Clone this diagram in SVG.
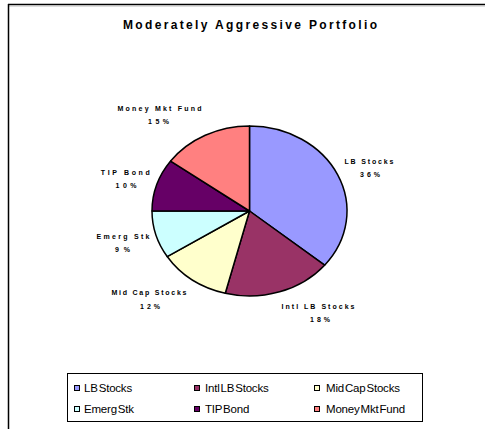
<svg xmlns="http://www.w3.org/2000/svg" width="485" height="429" viewBox="0 0 485 429">
<style>
.frame{stroke:#000;stroke-width:1.5;fill:none}
.slice{stroke:#000;stroke-width:1.5;stroke-linejoin:round}
.lbl{font-family:"Liberation Sans",Arial,sans-serif;font-weight:bold;font-size:7px;fill:#000;text-anchor:middle}
.title{font-family:"Liberation Sans",Arial,sans-serif;font-weight:bold;font-size:12px;fill:#000;text-anchor:middle}
.leg{font-family:"Liberation Sans",Arial,sans-serif;font-size:11.5px;fill:#000;word-spacing:-2px;letter-spacing:-0.2px}
.sw{stroke:#000;stroke-width:1}
</style>
<rect width="485" height="429" fill="#fff"/>
<g id="frame">
<line x1="8" y1="4.5" x2="485" y2="4.5" class="frame"/>
<line x1="8" y1="6" x2="485" y2="6" stroke="#bbb" stroke-width="1"/>
<line x1="8.5" y1="4" x2="8.5" y2="429" class="frame"/>
</g>
<text id="title" class="title" x="250" y="28.5" textLength="254" lengthAdjust="spacing">Moderately Aggressive Portfolio</text>
<g id="slice-lb"><path class="slice" fill="#9999FF" d="M249.5,211 L249.5,126 A97.5,85 0 0 1 324.62,265.18 Z"/></g>
<g id="slice-intl"><path class="slice" fill="#993366" d="M249.5,211 L324.62,265.18 A97.5,85 0 0 1 225.25,293.33 Z"/></g>
<g id="slice-mid"><path class="slice" fill="#FFFFCC" d="M249.5,211 L225.25,293.33 A97.5,85 0 0 1 167.18,256.55 Z"/></g>
<g id="slice-emerg"><path class="slice" fill="#CCFFFF" d="M249.5,211 L167.18,256.55 A97.5,85 0 0 1 152,211 Z"/></g>
<g id="slice-tip"><path class="slice" fill="#660066" d="M249.5,211 L152,211 A97.5,85 0 0 1 170.62,161.04 Z"/></g>
<g id="slice-money"><path class="slice" fill="#FF8080" d="M249.5,211 L170.62,161.04 A97.5,85 0 0 1 249.5,126 Z"/></g>
<g id="labels">
<text class="lbl" x="159.5" y="110.5" textLength="84" lengthAdjust="spacing">Money Mkt Fund</text>
<text class="lbl" x="158.5" y="124" textLength="21" lengthAdjust="spacing">15%</text>
<text class="lbl" x="125.3" y="175" textLength="49" lengthAdjust="spacing">TIP Bond</text>
<text class="lbl" x="126" y="188" textLength="21" lengthAdjust="spacing">10%</text>
<text class="lbl" x="123" y="239" textLength="53" lengthAdjust="spacing">Emerg Stk</text>
<text class="lbl" x="122.5" y="251.5" textLength="15" lengthAdjust="spacing">9%</text>
<text class="lbl" x="149" y="295" textLength="75" lengthAdjust="spacing">Mid Cap Stocks</text>
<text class="lbl" x="150" y="308.5" textLength="20" lengthAdjust="spacing">12%</text>
<text class="lbl" x="318" y="308.5" textLength="73" lengthAdjust="spacing">Intl LB Stocks</text>
<text class="lbl" x="320" y="322" textLength="20" lengthAdjust="spacing">18%</text>
<text class="lbl" x="369" y="164" textLength="49" lengthAdjust="spacing">LB Stocks</text>
<text class="lbl" x="370" y="176.5" textLength="20" lengthAdjust="spacing">36%</text>
</g>
<g id="legend">
<rect x="67.5" y="373.5" width="355" height="48" fill="#fff" stroke="#000" stroke-width="1"/>
<rect class="sw" x="74.5" y="385.5" width="5" height="5" fill="#9999FF"/>
<text class="leg" x="84" y="392">LB Stocks</text>
<rect class="sw" x="194.5" y="385.5" width="5" height="5" fill="#993366"/>
<text class="leg" x="205" y="392">Intl LB Stocks</text>
<rect class="sw" x="314.5" y="385.5" width="5" height="5" fill="#FFFFCC"/>
<text class="leg" x="326" y="392">Mid Cap Stocks</text>
<rect class="sw" x="74.5" y="406.5" width="5" height="5" fill="#CCFFFF"/>
<text class="leg" x="84" y="413">Emerg Stk</text>
<rect class="sw" x="194.5" y="406.5" width="5" height="5" fill="#660066"/>
<text class="leg" x="205" y="413">TIP Bond</text>
<rect class="sw" x="314.5" y="406.5" width="5" height="5" fill="#FF8080"/>
<text class="leg" x="326" y="413">Money Mkt Fund</text>
</g>
</svg>
